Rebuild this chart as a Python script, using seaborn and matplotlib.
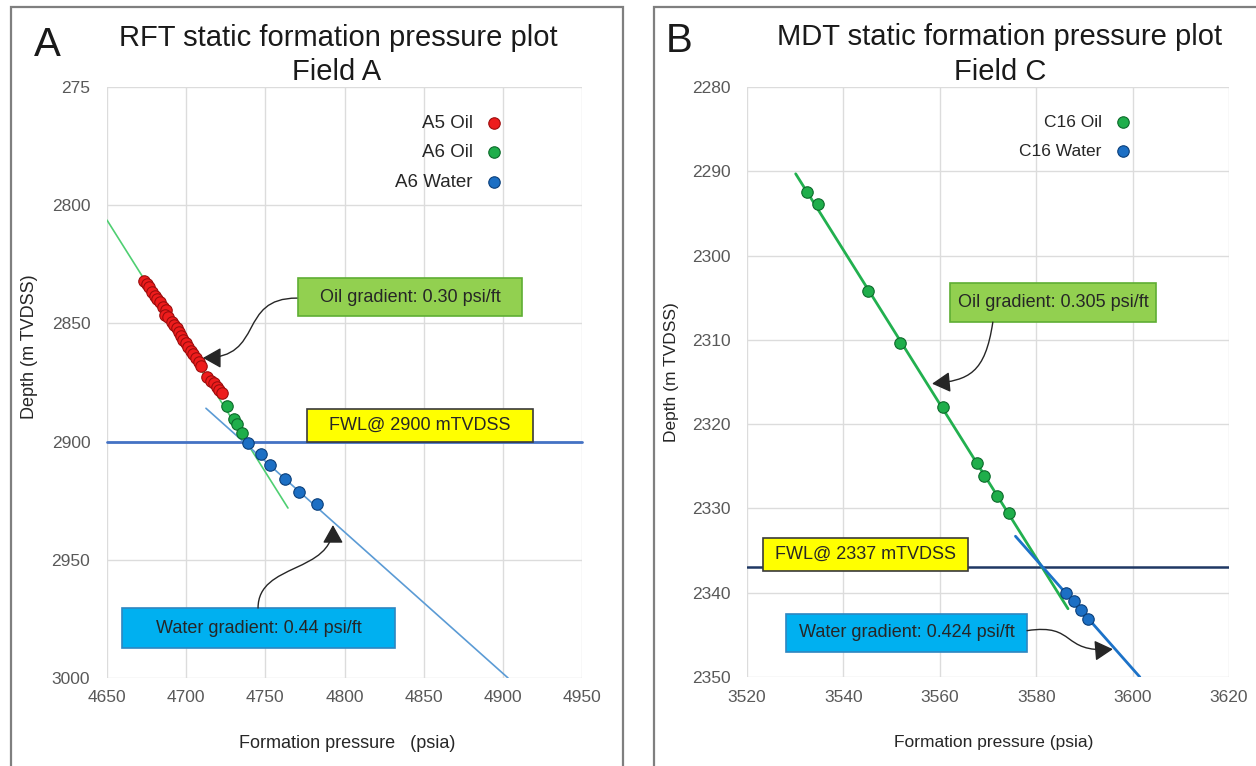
import matplotlib
matplotlib.use("Agg")
import matplotlib.pyplot as plt
from matplotlib.patches import Rectangle, FancyArrowPatch
from matplotlib.path import Path
import pandas as pd
import seaborn as sns

# ---------------- Field A : RFT pressures ----------------
a5_oil_p = [4673.4, 4675.1, 4676.7, 4678.6, 4680.3, 4681.8, 4683.5, 4685.6, 4687.3,
            4686.6, 4688.7, 4690.9, 4692.3, 4694.0, 4695.7, 4696.7, 4698.2, 4699.9,
            4701.4, 4702.9, 4704.5, 4706.2, 4707.9, 4709.4,
            4713.4, 4715.5, 4717.6, 4719.3, 4720.9, 4722.6]
a5_oil_d = [2831.9, 2833.3, 2834.5, 2836.6, 2838.4, 2839.8, 2840.8, 2842.9, 2844.3,
            2846.4, 2847.2, 2849.3, 2850.7, 2852.1, 2853.5, 2855.3, 2857.0, 2858.4,
            2860.1, 2861.5, 2863.1, 2864.8, 2866.2, 2868.0,
            2872.8, 2874.2, 2875.3, 2876.8, 2878.2, 2879.6]
a6_oil_p = [4725.8, 4730.1, 4732.4, 4735.1]
a6_oil_d = [2885.1, 2890.6, 2892.5, 2896.4]
a6_water_p = [4738.9, 4747.1, 4753.0, 4762.6, 4771.3, 4782.5]
a6_water_d = [2900.7, 2905.2, 2909.8, 2915.8, 2921.2, 2926.4]

a_oil_line_p = [4650.0, 4764.3]
a_oil_line_d = [2806.3, 2928.1]
a_water_line_p = [4712.5, 4903.3]
a_water_line_d = [2885.9, 3000.0]
a_fwl = 2900

a_xticks = [4650, 4700, 4750, 4800, 4850, 4900, 4950]
a_yticks = [2750, 2800, 2850, 2900, 2950, 3000]
a_yticklabels = ["275", "2800", "2850", "2900", "2950", "3000"]

# ---------------- Field C : MDT pressures ----------------
c16_oil_p = [3532.4, 3534.8, 3545.2, 3551.7, 3560.6, 3567.7, 3569.2, 3571.9, 3574.3]
c16_oil_d = [2292.4, 2293.9, 2304.2, 2310.4, 2318.0, 2324.6, 2326.1, 2328.5, 2330.6]
c16_water_p = [3586.2, 3587.8, 3589.3, 3590.8]
c16_water_d = [2340.0, 2341.0, 2342.0, 2343.1]

c_oil_line_p = [3530.1, 3586.6]
c_oil_line_d = [2290.3, 2341.9]
c_water_line_p = [3575.7, 3601.5]
c_water_line_d = [2333.3, 2350.0]
c_fwl = 2337

c_xticks = [3520, 3540, 3560, 3580, 3600, 3620]
c_yticks = [2280, 2290, 2300, 2310, 2320, 2330, 2340, 2350]

# ---------------- styling ----------------
sns.set_style("whitegrid")
plt.rcParams["font.family"] = ["Liberation Sans", "DejaVu Sans"]

RED, RED_E = "#ee1c1c", "#9c0d0d"
GREEN, GREEN_E = "#1fae4b", "#0c6a2b"
BLUE, BLUE_E = "#1c6fc4", "#0b3f7a"
TXT = "#262626"
TICK = "#595959"

W, H = 1256, 766
fig = plt.figure(figsize=(W / 100, H / 100), dpi=100)


def px_rect(x0, y0, x1, y1):
    """Figure-fraction rectangle from pixel corners (origin top-left)."""
    return [x0 / W, 1 - y1 / H, (x1 - x0) / W, (y1 - y0) / H]


ax_a = fig.add_axes(px_rect(107, 87, 582, 678))
ax_c = fig.add_axes(px_rect(747, 87, 1229, 677))

# panel frames
for x0, x1 in [(11, 623), (654, 1262)]:
    fig.add_artist(Rectangle((x0 / W, -0.05), (x1 - x0) / W, 1.05 - 7 / H,
                             transform=fig.transFigure, fill=False,
                             edgecolor="#7f7f7f", lw=1.6))


def scatter(ax, p, d, color, edge, label):
    df = pd.DataFrame({"pressure": p, "depth": d})
    sns.scatterplot(data=df, x="pressure", y="depth", color=color, edgecolor=edge,
                    linewidth=0.8, s=68, ax=ax, label=label, zorder=4)


def gradient_line(ax, p, d, color, lw):
    df = pd.DataFrame({"pressure": p, "depth": d})
    sns.lineplot(data=df, x="pressure", y="depth", sort=False, color=color,
                 lw=lw, ax=ax, zorder=3, legend=False)


def label_box(ax, p0, p1, d0, d1, face, edge, text):
    ax.add_patch(Rectangle((p0, d0), p1 - p0, d1 - d0, facecolor=face,
                           edgecolor=edge, lw=1.2, zorder=5, clip_on=False))
    ax.text((p0 + p1) / 2, (d0 + d1) / 2, text, ha="center", va="center",
            fontsize=13, color=TXT, zorder=6)


def curved_arrow(ax, pts):
    path = Path(pts, [Path.MOVETO, Path.CURVE4, Path.CURVE4, Path.CURVE4])
    ax.add_patch(FancyArrowPatch(path=path,
                                 arrowstyle="-|>,head_length=0.8,head_width=0.45",
                                 mutation_scale=14, color=TXT, lw=1.0, zorder=6))


def style_axes(ax, xlim, ylim, xticks, yticks, yticklabels=None):
    ax.set_xlim(*xlim)
    ax.set_ylim(*ylim)
    ax.set_xticks(xticks)
    ax.set_yticks(yticks)
    if yticklabels is not None:
        ax.set_yticklabels(yticklabels)
    for s in ax.spines.values():
        s.set_visible(False)
    ax.grid(True, color="#dcdcdc", lw=1.0)
    ax.tick_params(axis="both", length=0, labelsize=12.5, labelcolor=TICK)
    ax.tick_params(axis="y", pad=12)
    ax.tick_params(axis="x", pad=9)


# ---------------- panel A ----------------
gradient_line(ax_a, a_oil_line_p, a_oil_line_d, "#4fcf72", 1.2)
gradient_line(ax_a, a_water_line_p, a_water_line_d, "#5b9bd5", 1.2)
ax_a.axhline(a_fwl, color="#4472c4", lw=2, zorder=2, clip_on=False)
scatter(ax_a, a5_oil_p, a5_oil_d, RED, RED_E, "A5 Oil")
scatter(ax_a, a6_oil_p, a6_oil_d, GREEN, GREEN_E, "A6 Oil")
scatter(ax_a, a6_water_p, a6_water_d, BLUE, BLUE_E, "A6 Water")
style_axes(ax_a, (4650, 4950), (3000, 2750), a_xticks, a_yticks, a_yticklabels)
ax_a.set_xlabel("Formation pressure   (psia)", fontsize=13, color=TXT)
ax_a.set_ylabel("Depth (m TVDSS)", fontsize=13, color=TXT)
ax_a.xaxis.set_label_coords((347 - 107) / 475, 1 - (743 - 87) / 591)
ax_a.yaxis.set_label_coords((30 - 107) / 475, 1 - (347 - 87) / 591)
ax_a.xaxis.label.set_va("center")
ax_a.yaxis.label.set_va("center")
ax_a.legend(loc="upper right", bbox_to_anchor=(0.831, 0.953), frameon=False,
            markerfirst=False, fontsize=13.5, handlelength=0.8, handletextpad=0.75,
            labelspacing=0.66, borderaxespad=0, borderpad=0, labelcolor=TXT)

label_box(ax_a, 4770.6, 4912.1, 2830.8, 2846.9, "#92d050", "#5fae34",
          "Oil gradient: 0.30 psi/ft")
label_box(ax_a, 4776.3, 4919.1, 2886.2, 2900.2, "#ffff00", "#3a3a3a",
          "FWL@ 2900 mTVDSS")
label_box(ax_a, 4659.5, 4831.9, 2970.4, 2987.5, "#00b0f0", "#2e86c1",
          "Water gradient: 0.44 psi/ft")
curved_arrow(ax_a, [(4770.0, 2839.3), (4732.0, 2839.3), (4750.0, 2864.6), (4710.6, 2864.6)])
curved_arrow(ax_a, [(4745.4, 2970.4), (4745.4, 2951.0), (4792.7, 2956.0), (4792.7, 2935.3)])

# ---------------- panel C ----------------
gradient_line(ax_c, c_oil_line_p, c_oil_line_d, "#22b04f", 2.0)
gradient_line(ax_c, c_water_line_p, c_water_line_d, "#1c72c8", 2.0)
ax_c.axhline(c_fwl, color="#1f3864", lw=1.8, zorder=2)
scatter(ax_c, c16_oil_p, c16_oil_d, GREEN, GREEN_E, "C16 Oil")
scatter(ax_c, c16_water_p, c16_water_d, BLUE, BLUE_E, "C16 Water")
style_axes(ax_c, (3520, 3620), (2350, 2280), c_xticks, c_yticks)
ax_c.set_xlabel("Formation pressure (psia)", fontsize=12.5, color=TXT)
ax_c.set_ylabel("Depth (m TVDSS)", fontsize=12.5, color=TXT)
ax_c.xaxis.set_label_coords((994 - 747) / 482, 1 - (743 - 87) / 590)
ax_c.yaxis.set_label_coords((672 - 747) / 482, 1 - (372 - 87) / 590)
ax_c.xaxis.label.set_va("center")
ax_c.yaxis.label.set_va("center")
ax_c.legend(loc="upper right", bbox_to_anchor=(0.795, 0.953), frameon=False,
            markerfirst=False, fontsize=12.5, handlelength=0.8, handletextpad=0.85,
            labelspacing=0.79, borderaxespad=0, borderpad=0, labelcolor=TXT)

label_box(ax_c, 3562.1, 3604.9, 2303.3, 2307.9, "#92d050", "#5fae34",
          "Oil gradient: 0.305 psi/ft")
label_box(ax_c, 3523.3, 3565.9, 2333.5, 2337.4, "#ffff00", "#3a3a3a",
          "FWL@ 2337 mTVDSS")
label_box(ax_c, 3528.1, 3578.1, 2342.5, 2347.0, "#00b0f0", "#2e86c1",
          "Water gradient: 0.424 psi/ft")
curved_arrow(ax_c, [(3571.0, 2307.9), (3569.4, 2314.0), (3566.0, 2314.8), (3558.4, 2315.2)])
curved_arrow(ax_c, [(3578.1, 2344.5), (3588.5, 2343.6), (3585.0, 2347.2), (3595.9, 2346.7)])

# ---------------- titles ----------------
def ftext(x, y, s, size, **kw):
    fig.text(x / W, 1 - y / H, s, fontsize=size, color="#1a1a1a",
             ha="center", va="center", **kw)


ftext(47, 45, "A", 29)
ftext(338, 38, "RFT static formation pressure plot", 21)
ftext(337, 72, "Field A", 21)
ftext(679, 41, "B", 29)
ftext(1000, 37, "MDT static formation pressure plot", 21)
ftext(1000, 72, "Field C", 21)

fig.savefig("out.png", dpi=100, facecolor="white")
